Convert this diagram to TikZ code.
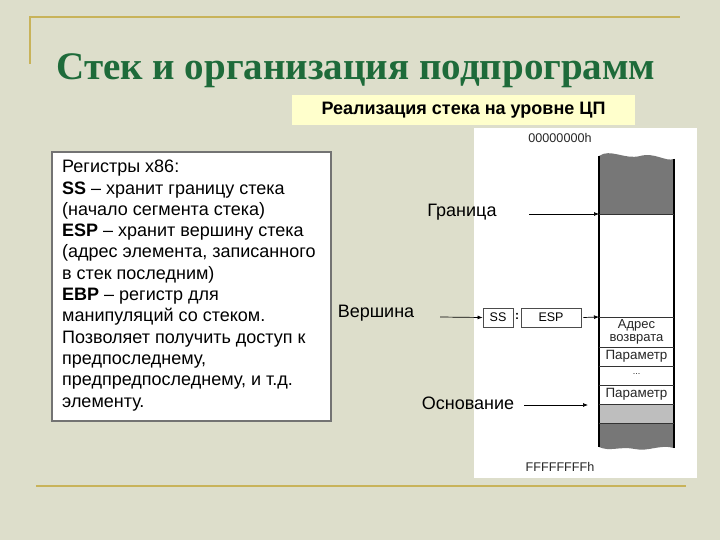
\documentclass[tikz,border=0pt]{standalone}
\usepackage{fontspec}
\setmainfont{Liberation Sans}
\newfontfamily\titlefont{Liberation Serif}
\usetikzlibrary{arrows.meta}
\definecolor{bgc}{HTML}{DDDECB}
\definecolor{goldl}{HTML}{C8B35A}
\definecolor{titlegreen}{HTML}{1E6B3A}
\definecolor{paleyellow}{HTML}{FFFFCC}
\definecolor{darkg}{HTML}{777777}
\definecolor{lightg}{HTML}{BEBEBE}
\tikzset{
  lbl/.style={font=\fontsize{18}{20}\selectfont, inner sep=0pt},
  small/.style={font=\fontsize{13.4}{13}\selectfont, inner sep=0pt, text=black!85},
  regbox/.style={draw=black!70, line width=0.8pt, fill=white, inner sep=0pt, font=\fontsize{12.5}{13}\selectfont},
  arr/.style={-{Latex[length=5pt,width=4pt]}, line width=0.7pt},
  cell/.style={draw=black!80, line width=0.8pt}
}
\begin{document}
\begin{tikzpicture}[x=1pt,y=-1pt]
\fill[bgc] (0,0) rectangle (720,540);
\useasboundingbox (0,0) rectangle (720,540);
% decorative lines
\draw[goldl, line width=2pt] (30,17) -- (680,17);
\draw[goldl, line width=2pt] (30,16) -- (30,64);
\draw[goldl, line width=2.5pt] (36,486) -- (686,486);
% title
\node[font=\titlefont\bfseries\fontsize{39}{42}\selectfont, text=titlegreen, inner sep=0pt] (title) at (356,71) {Стек и организация подпрограмм};
% yellow box
\node[fill=paleyellow, minimum width=343pt, minimum height=30pt, inner sep=0pt, font=\bfseries\fontsize{18}{20}\selectfont] (impl) at (463.5,110) {Реализация стека на уровне ЦП};
% left box
\node[draw=black!55, line width=1.2pt, fill=white, minimum width=279pt, minimum height=269pt, inner sep=0pt] (regs) at (191.5,286.5) {};
\node[anchor=north west, inner sep=0pt, align=left, font=\fontsize{18}{21.3}\selectfont] (regtext) at (62,160) {Регистры x86:\\
\textbf{SS} – хранит границу стека\\
(начало сегмента стека)\\
\textbf{ESP} – хранит вершину стека\\
(адрес элемента, записанного\\
в стек последним)\\
\textbf{EBP} – регистр для\\
манипуляций со стеком.\\
Позволяет получить доступ к\\
предпоследнему,\\
предпредпоследнему, и т.д.\\
элементу.};
% white panel
\fill[white] (474,128) rectangle (697,478);
\node[small, font=\fontsize{12.6}{13}\selectfont] (top) at (560,138) {00000000h};
\node[small, font=\fontsize{12.6}{13}\selectfont] (bot) at (560,467) {FFFFFFFFh};
% stack column
\fill[darkg] (599,156) .. controls (610,148) and (625,160) .. (640,156) .. controls (655,152) and (665,162) .. (674,159) -- (674,214) -- (599,214) -- cycle;
\fill[lightg] (599,404) rectangle (674,423);
\fill[darkg] (599,423) -- (674,423) -- (674,448) .. controls (660,444) and (648,452) .. (635,449) .. controls (620,446) and (610,452) .. (599,447) -- cycle;
\draw[black, line width=1.2pt] (599,156) -- (599,447);
\draw[black, line width=1.2pt] (674,159) -- (674,448);
\foreach \yy in {214,317,347,366,385,404,423} \draw[cell] (599,\yy) -- (674,\yy);
\node[small, align=center, font=\fontsize{13}{13.5}\selectfont] (ret) at (636.5,332) {Адрес\\возврата};
\node[small] (p1) at (636.5,356.5) {Параметр};
\node[small, font=\fontsize{9}{10}\selectfont] (dots) at (636.5,374) {...};
\node[small] (p2) at (636.5,394.5) {Параметр};
\coordinate (gr) at (599,214);
\coordinate (vr) at (599,317);
\coordinate (os) at (588,405);
% labels and arrows
\node[lbl] (granica) at (462,212) {Граница};
\node[lbl] (vershina) at (376,313) {Вершина};
\node[lbl] (osnov) at (468,403) {Основание};
\coordinate (grs) at (529,214);
\coordinate (vrs) at (440,317);
\coordinate (oss) at (524,405);
\node[regbox, minimum width=30pt, minimum height=19pt] (ss) at (498,317.5) {SS};
\node[font=\bfseries\fontsize{12}{12}\selectfont, inner sep=0pt] (colon) at (517,316.5) {:};
\node[regbox, minimum width=60pt, minimum height=19pt] (esp) at (551,317.5) {ESP};
\draw[arr] (grs) -- (gr);
\draw[arr] (vrs) -- (ss.west);
\coordinate (espo) at ([xshift=2pt]esp.east);
\draw[arr] (espo) -- (vr);
\draw[arr] (oss) -- (os);
\end{tikzpicture}
\end{document}
